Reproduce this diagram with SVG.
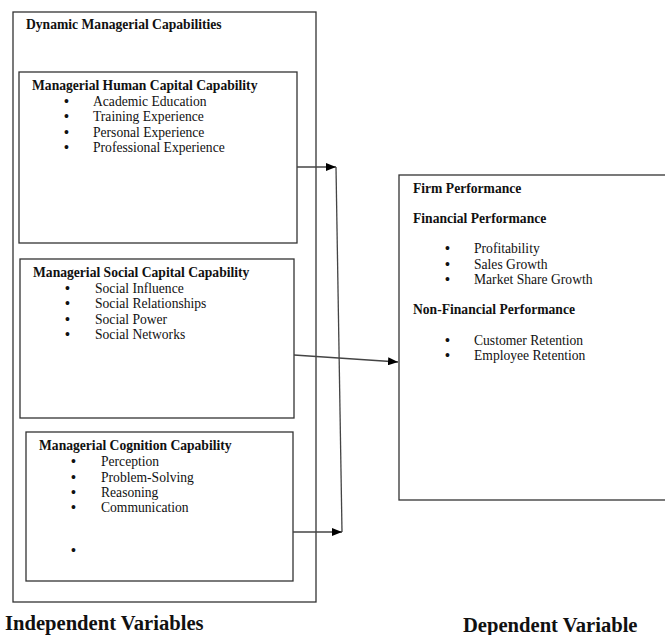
<svg xmlns="http://www.w3.org/2000/svg" width="665" height="635" viewBox="0 0 665 635">
<style>
.box{fill:none;stroke:#333;stroke-width:1.3}
.t{font-family:"Liberation Serif","Times New Roman",serif;fill:#111}
.h{font-weight:bold;font-size:13.6px}
.i{font-size:13.6px}
.b{font-size:14px;font-weight:bold}
.big{font-weight:bold;font-size:20.6px}
.c{fill:none;stroke:#444;stroke-width:1.3}
</style>
<defs>
<marker id="ah" viewBox="0 0 10 8" refX="10" refY="4" markerWidth="10" markerHeight="8" markerUnits="userSpaceOnUse" orient="auto">
<path d="M0,0 L10,4 L0,8 z" fill="#000"/>
</marker>
</defs>
<rect width="665" height="635" fill="#fff"/>
<g id="dynamic">
<rect class="box" x="13" y="12" width="303" height="590"/>
<text class="t h" x="26" y="29">Dynamic Managerial Capabilities</text>
</g>
<g id="human">
<rect class="box" x="19" y="72" width="278" height="171"/>
<text class="t h" x="32" y="90">Managerial Human Capital Capability</text>
<g class="t i">
<text class="b" x="64" y="106">•</text><text x="93" y="106">Academic Education</text>
<text class="b" x="64" y="121">•</text><text x="93" y="121">Training Experience</text>
<text class="b" x="64" y="137">•</text><text x="93" y="137">Personal Experience</text>
<text class="b" x="64" y="152">•</text><text x="93" y="152">Professional Experience</text>
</g>
</g>
<g id="social">
<rect class="box" x="20" y="259" width="274" height="159"/>
<text class="t h" x="33" y="277">Managerial Social Capital Capability</text>
<g class="t i">
<text class="b" x="65" y="293">•</text><text x="95" y="293">Social Influence</text>
<text class="b" x="65" y="308">•</text><text x="95" y="308">Social Relationships</text>
<text class="b" x="65" y="324">•</text><text x="95" y="324">Social Power</text>
<text class="b" x="65" y="339">•</text><text x="95" y="339">Social Networks</text>
</g>
</g>
<g id="cognition">
<rect class="box" x="26" y="432" width="267" height="149"/>
<text class="t h" x="39" y="450">Managerial Cognition Capability</text>
<g class="t i">
<text class="b" x="71" y="466">•</text><text x="101" y="466">Perception</text>
<text class="b" x="71" y="482">•</text><text x="101" y="482">Problem-Solving</text>
<text class="b" x="71" y="497">•</text><text x="101" y="497">Reasoning</text>
<text class="b" x="71" y="512">•</text><text x="101" y="512">Communication</text>
<text class="b" x="71" y="555">•</text>
</g>
</g>
<g id="firm">
<rect class="box" x="399" y="175" width="275" height="325"/>
<g class="t">
<text class="h" x="413" y="193">Firm Performance</text>
<text class="h" x="413" y="223">Financial Performance</text>
<g class="i">
<text class="b" x="445" y="253">•</text><text x="474" y="253">Profitability</text>
<text class="b" x="445" y="269">•</text><text x="474" y="269">Sales Growth</text>
<text class="b" x="445" y="284">•</text><text x="474" y="284">Market Share Growth</text>
</g>
<text class="h" x="413" y="314">Non-Financial Performance</text>
<g class="i">
<text class="b" x="445" y="345">•</text><text x="474" y="345">Customer Retention</text>
<text class="b" x="445" y="360">•</text><text x="474" y="360">Employee Retention</text>
</g>
</g>
</g>
<g id="labels">
<text class="t big" x="5" y="630">Independent Variables</text>
<text class="t big" x="463" y="632">Dependent Variable</text>
</g>
<g id="connectors">
<line class="c" x1="297" y1="167" x2="336" y2="167" marker-end="url(#ah)"/>
<line class="c" x1="336" y1="167" x2="342" y2="532" stroke="#777"/>
<line class="c" x1="293" y1="532" x2="342" y2="532" marker-end="url(#ah)"/>
<line class="c" x1="294" y1="355" x2="398" y2="362" marker-end="url(#ah)"/>
</g>
</svg>
